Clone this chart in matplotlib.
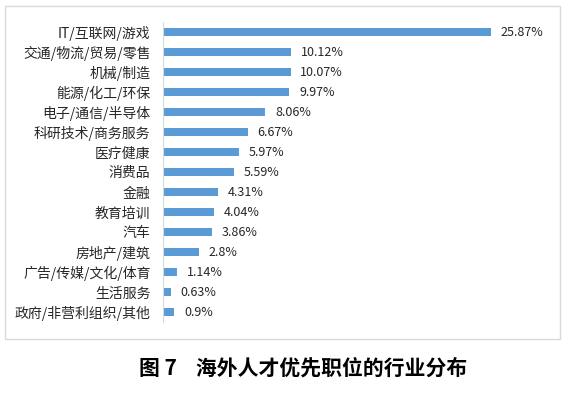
import numpy as np
import matplotlib.pyplot as plt
from matplotlib.patches import Rectangle

plt.rcParams['font.family'] = ['Noto Sans CJK SC', 'DejaVu Sans']

categories = ['IT/互联网/游戏', '交通/物流/贸易/零售', '机械/制造', '能源/化工/环保',
              '电子/通信/半导体', '科研技术/商务服务', '医疗健康', '消费品', '金融',
              '教育培训', '汽车', '房地产/建筑', '广告/传媒/文化/体育', '生活服务',
              '政府/非营利组织/其他']
values = [25.87, 10.12, 10.07, 9.97, 8.06, 6.67, 5.97, 5.59, 4.31, 4.04, 3.86, 2.8, 1.14, 0.63, 0.9]
value_labels = ['25.87%', '10.12%', '10.07%', '9.97%', '8.06%', '6.67%', '5.97%', '5.59%',
                '4.31%', '4.04%', '3.86%', '2.8%', '1.14%', '0.63%', '0.9%']

W, H = 566, 393
fig = plt.figure(figsize=(W / 100, H / 100), dpi=100)

# chart frame
fig.patches.append(Rectangle((5 / W, 1 - 339 / H), 555 / W, 333 / H, transform=fig.transFigure,
                             fill=False, edgecolor='#d9d9d9', linewidth=1))

ax = fig.add_axes([163 / W, 1 - 322 / H, 380 / W, 300 / H])
y = np.arange(len(categories))
ax.barh(y, values, height=0.36, color='#5b9bd5')
ax.set_ylim(len(categories) - 0.5, -0.5)
ax.set_xlim(0, 380 / 12.68)

ax.set_yticks(y)
ax.set_yticklabels(categories, fontsize=10, color='#262626')
ax.tick_params(axis='y', length=0, pad=9)
ax.set_xticks([])

for s in ['top', 'right', 'bottom']:
    ax.spines[s].set_visible(False)
ax.spines['left'].set_color('#d9d9d9')

for yi, v, lab in zip(y, values, value_labels):
    ax.annotate(lab, (v, yi), xytext=(7, 0), textcoords='offset points',
                va='center', ha='left', fontsize=9, color='#262626')

fig.text(303 / W, 1 - 368 / H, '图 7    海外人才优先职位的行业分布', ha='center', va='center',
         fontsize=15, fontweight='bold', color='black')

fig.savefig('out.png', dpi=100)
